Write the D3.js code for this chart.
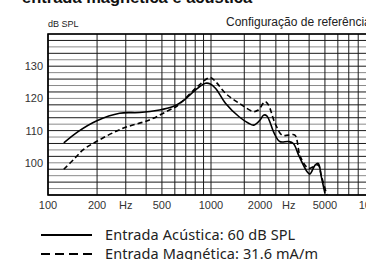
<!DOCTYPE html>
<html lang="en">
<head>
    <meta charset="UTF-8">
    <title>Resposta em frequência</title>
    <script src="https://cdn.jsdelivr.net/npm/d3@7/dist/d3.min.js"></script>
    <style>
        body { margin: 0; background: #fff; }
        svg { display: block; font-family: "Liberation Sans", Arial, sans-serif; }
    </style>
</head>
<body>
<svg id="main" width="366" height="260"></svg>
<script>
    // values
    const acousticFreq = [125, 153, 198, 275, 365, 483, 580, 664, 803, 925, 991, 1068, 1226, 1487, 1700, 1830, 2000, 2100, 2200, 2440, 2640, 2990, 3200, 3480, 3890, 4040, 4350, 4550, 4750, 5000];
    const acousticDb   = [106.2, 109.7, 113, 115.4, 115.6, 116.4, 117.4, 119, 122.6, 124.7, 124.5, 123.1, 118.5, 114.3, 112.3, 111.7, 113.3, 114.8, 114.6, 109.2, 106.6, 106.6, 106, 101.9, 97.2, 96.5, 99.3, 99.8, 95.7, 90.5];
    const magneticFreq = [125, 146, 164, 198, 288, 419, 556, 610, 664, 803, 948, 991, 1068, 1226, 1487, 1830, 1950, 2150, 2250, 2470, 2730, 2990, 3270, 3530, 3960, 4250, 4550, 4750, 5140];
    const magneticDb   = [98, 101.4, 104, 106.6, 110.7, 113.3, 116.4, 117.4, 119, 123.1, 126.2, 126.5, 125.2, 121.6, 118.5, 115.9, 116.4, 119, 118, 112.3, 108.6, 108.6, 108.6, 101.9, 98.3, 98.8, 99.3, 96, 90];

    const xTicks = [100, 200, 500, 1000, 2000, 5000, 10000];
    const xTickLabels = ['100', '200', '500', '1000', '2000', '5000', '10000'];
    const hzTicks = [300, 3000];
    const yTicks = [100, 110, 120, 130];
    const xGrid = [100, 200, 300, 400, 500, 600, 700, 800, 900, 1000, 1600, 2000, 2500, 3000, 4000, 5000, 6000, 7000, 8000, 9000, 10000];
    const yGrid = d3.range(90, 141, 2);

    const legendLabels = ['Entrada Acústica: 60 dB SPL', 'Entrada Magnética: 31.6 mA/m'];

    let svg = d3.select('svg#main');
    let plotLeft = 48, plotRight = 374, plotTop = 34, plotBottom = 195;

    let x = d3.scaleLog().domain([100, 10000]).range([plotLeft, plotRight]);
    let y = d3.scaleLinear().domain([90, 140]).range([plotBottom, plotTop]);

    // title, cut off at the top like the reference
    svg.append('text')
        .attr('x', 22).attr('y', 3)
        .attr('font-size', 16.5).attr('font-weight', 'bold')
        .attr('fill', '#111')
        .text('entrada magnética e acústica');

    svg.append('text')
        .attr('x', 48).attr('y', 27)
        .attr('font-size', 9).attr('fill', '#222')
        .text('dB SPL');

    svg.append('text')
        .attr('x', 226).attr('y', 26)
        .attr('font-size', 12).attr('fill', '#222')
        .text('Configuração de referência');

    // grid
    svg.append('g').selectAll('line').data(yGrid).enter().append('line')
        .attr('x1', plotLeft).attr('x2', plotRight)
        .attr('y1', d => y(d)).attr('y2', d => y(d))
        .attr('stroke', (d, i) => i % 2 ? '#8a8a8a' : '#1a1a1a')
        .attr('stroke-width', 1);

    svg.append('g').selectAll('line').data(xGrid).enter().append('line')
        .attr('x1', d => x(d)).attr('x2', d => x(d))
        .attr('y1', plotTop).attr('y2', plotBottom)
        .attr('stroke', '#1a1a1a')
        .attr('stroke-width', 1);

    svg.append('rect')
        .attr('x', plotLeft).attr('y', plotTop)
        .attr('width', plotRight - plotLeft).attr('height', plotBottom - plotTop)
        .attr('fill', 'none').attr('stroke', '#000').attr('stroke-width', 1.6);

    // axis labels
    svg.append('g').selectAll('text').data(yTicks).enter().append('text')
        .attr('x', 43).attr('y', d => y(d) + 4)
        .attr('text-anchor', 'end')
        .attr('font-size', 11).attr('fill', '#333')
        .text(d => d);

    svg.append('g').selectAll('text').data(xTicks).enter().append('text')
        .attr('x', d => x(d)).attr('y', 209)
        .attr('text-anchor', 'middle')
        .attr('font-size', 11).attr('fill', '#333')
        .text((d, i) => xTickLabels[i]);

    svg.append('g').selectAll('text').data(hzTicks).enter().append('text')
        .attr('x', d => x(d)).attr('y', 209)
        .attr('text-anchor', 'middle')
        .attr('font-size', 11).attr('fill', '#333')
        .text('Hz');

    // curves
    let line = d3.line()
        .x(d => x(d[0]))
        .y(d => y(d[1]))
        .curve(d3.curveCatmullRom);

    svg.append('path')
        .datum(magneticFreq.map((f, i) => [f, magneticDb[i]]))
        .attr('d', line)
        .attr('fill', 'none')
        .attr('stroke', '#000')
        .attr('stroke-width', 1.6)
        .attr('stroke-dasharray', '5,3');

    svg.append('path')
        .datum(acousticFreq.map((f, i) => [f, acousticDb[i]]))
        .attr('d', line)
        .attr('fill', 'none')
        .attr('stroke', '#000')
        .attr('stroke-width', 1.6);

    // legend
    let legend = svg.selectAll('.legend').data(legendLabels)
        .enter().append('g')
        .attr('class', 'legend')
        .attr('transform', (d, i) => 'translate(0,' + (235 + i * 19) + ')');

    legend.append('line')
        .attr('x1', 41).attr('x2', 92)
        .attr('stroke', '#000').attr('stroke-width', 2)
        .attr('stroke-dasharray', (d, i) => i ? '9,5' : null);

    legend.append('text')
        .attr('x', 105).attr('y', 5)
        .attr('font-family', '"Noto Sans", sans-serif')
        .attr('font-size', 14.5).attr('fill', '#222')
        .attr('letter-spacing', 0.1)
        .text(d => d);
</script>
</body>
</html>
